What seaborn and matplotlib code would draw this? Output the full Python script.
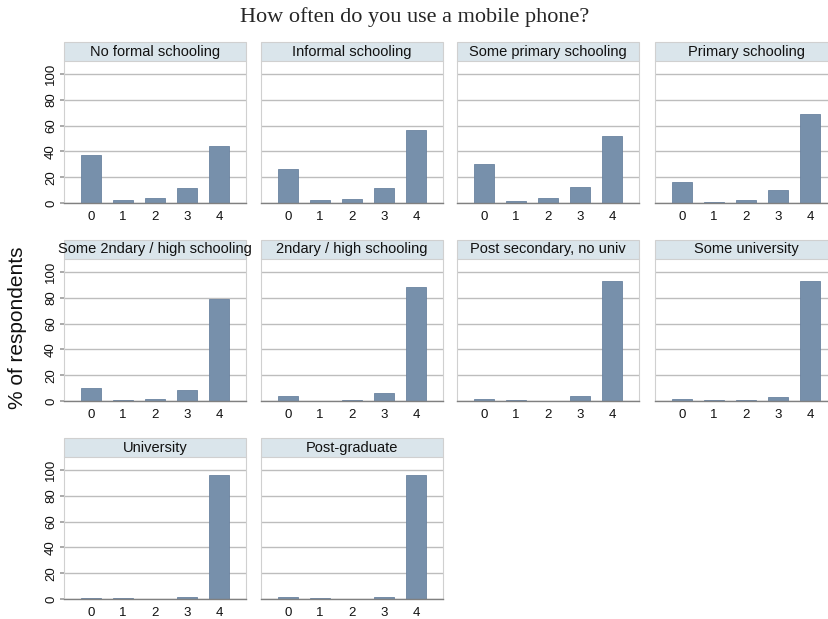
import matplotlib
matplotlib.use("Agg")
import matplotlib.pyplot as plt
from matplotlib.patches import Rectangle
import seaborn as sns
import pandas as pd

# ---- data ----
groups = ["No formal schooling", "Informal schooling", "Some primary schooling",
          "Primary schooling", "Some 2ndary / high schooling", "2ndary / high schooling",
          "Post secondary, no univ", "Some university", "University", "Post-graduate"]
categories = ["0", "1", "2", "3", "4"]
no_formal = [37.4, 2.6, 4.1, 11.6, 43.8]
informal = [26.3, 2.1, 3.1, 11.9, 56.4]
some_primary = [30.4, 1.8, 3.6, 12.4, 51.8]
primary = [16.5, 1.0, 2.6, 10.3, 68.8]
some_secondary = [10.1, 0.8, 1.5, 8.3, 79.1]
secondary = [4.1, 0.3, 1.0, 6.2, 88.1]
post_secondary = [1.3, 1.0, 0.3, 3.6, 93.3]
some_university = [1.8, 0.5, 0.8, 3.1, 93.0]
university = [0.8, 0.5, 0.3, 1.8, 96.1]
post_graduate = [1.3, 0.8, 0.3, 1.6, 95.9]
yticks = [0, 20, 40, 60, 80, 100]

series = [no_formal, informal, some_primary, primary, some_secondary, secondary,
          post_secondary, some_university, university, post_graduate]

rows = []
for g, vals in zip(groups, series):
    for c, v in zip(categories, vals):
        rows.append({"group": g, "cat": c, "pct": v})
df = pd.DataFrame(rows)

sns.set_theme(style="white")
plt.rcParams["font.family"] = ["Liberation Sans", "DejaVu Sans"]

W, H = 829, 619
fig = plt.figure(figsize=(W / 100, H / 100), dpi=100)

col_left = [64, 261, 457, 655]
plot_top = [61, 259, 457]
pw, ph = 182, 142
strip_h = 19

bar_color = "#7790ab"
edge_color = "#6a83a0"
strip_color = "#dae5eb"
grid_color = "#bdbdbd"

for i, g in enumerate(groups):
    r, c = divmod(i, 4)
    x0 = col_left[c]
    y0 = plot_top[r]
    ax = fig.add_axes([x0 / W, 1 - (y0 + ph) / H, pw / W, ph / H])
    sub = df[df["group"] == g]
    sns.barplot(data=sub, x="cat", y="pct", order=categories, color=bar_color,
                width=0.6, saturation=1, edgecolor=edge_color, linewidth=0.6, ax=ax)
    ax.set_xlim(-0.84, 4.84)
    ax.set_ylim(0, 110)
    ax.set_yticks(yticks)
    ax.set_xlabel("")
    ax.set_ylabel("")
    ax.yaxis.grid(True, color=grid_color, linewidth=1.0)
    ax.set_axisbelow(True)
    for s in ["left", "right", "top"]:
        ax.spines[s].set_color("#d0d0d0")
        ax.spines[s].set_linewidth(0.8)
    ax.spines["top"].set_visible(False)
    ax.spines["bottom"].set_color("#808080")
    ax.spines["bottom"].set_linewidth(1.0)
    ax.tick_params(axis="x", labelsize=9.5, length=0, bottom=False, pad=6,
                   labelcolor="#111111")
    if c == 0:
        ax.tick_params(axis="y", labelsize=9.5, length=3, color="#a0a0a0", left=True,
                       labelrotation=90, pad=2, labelcolor="#111111")
        for lab in ax.get_yticklabels():
            lab.set_va("center")
    else:
        ax.tick_params(axis="y", left=False, labelleft=False)
    # strip
    sh = strip_h / ph
    ax.add_patch(Rectangle((0, 1), 1, sh, transform=ax.transAxes, facecolor=strip_color,
                           edgecolor="#d0d0d0", linewidth=0.8, clip_on=False))
    ax.text(0.5, 1 + sh / 2, g, transform=ax.transAxes, ha="center", va="center",
            fontsize=10.5, color="#111111")

fig.text(415 / W, 1 - 17 / H, "How often do you use a mobile phone?", ha="center",
         va="center", fontsize=16, family=["Liberation Serif", "DejaVu Serif"])
fig.text(18 / W, 1 - 328 / H, "% of respondents", rotation=90, ha="center", va="center",
         fontsize=15, color="#111111")

fig.savefig("out.png", dpi=100)
